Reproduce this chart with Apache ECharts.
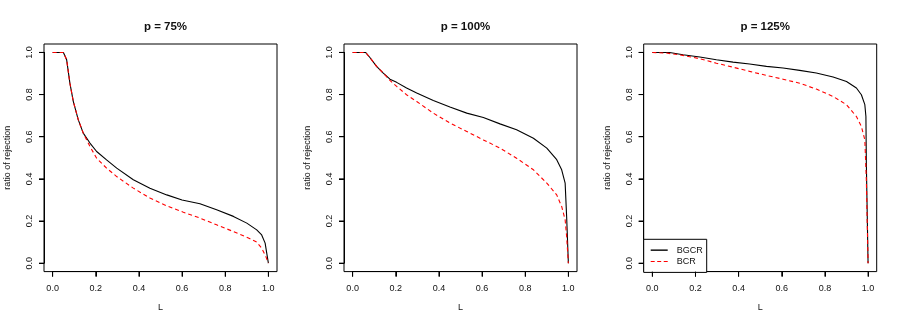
<!DOCTYPE html>
<html>
<head>
<meta charset="utf-8">
<script src="https://cdn.jsdelivr.net/npm/echarts@6/dist/echarts.min.js"></script>
<style>
  html, body { margin: 0; padding: 0; background: #fff; }
  #chart { width: 899px; height: 327px; }
</style>
</head>
<body>
<div id="chart"></div>
<script>
// panel titles
const panelTitles = ['p = 75%', 'p = 100%', 'p = 125%'];
const seriesNames = ['BGCR', 'BCR'];
const tickValues = [0, 0.2, 0.4, 0.6, 0.8, 1.0];

// p = 75%
const bgcr75 = [[0, 1], [0.05, 1], [0.065, 0.965], [0.08, 0.854], [0.096, 0.767], [0.119, 0.68],
  [0.142, 0.617], [0.173, 0.57], [0.204, 0.53], [0.25, 0.49], [0.297, 0.451], [0.374, 0.396],
  [0.451, 0.356], [0.529, 0.324], [0.6, 0.3], [0.683, 0.282], [0.76, 0.253], [0.838, 0.222],
  [0.9, 0.19], [0.946, 0.158], [0.969, 0.134], [0.985, 0.095], [0.99, 0.063], [1.0, 0]];
const bcr75 = [[0, 1], [0.05, 1], [0.065, 0.965], [0.08, 0.854], [0.096, 0.767], [0.119, 0.68],
  [0.142, 0.617], [0.155, 0.59], [0.173, 0.554], [0.204, 0.498], [0.25, 0.451], [0.297, 0.411],
  [0.374, 0.356], [0.451, 0.309], [0.529, 0.272], [0.606, 0.242], [0.683, 0.214], [0.76, 0.182],
  [0.838, 0.15], [0.915, 0.116], [0.946, 0.1], [0.969, 0.071], [0.988, 0.032], [1.0, 0]];

// p = 100%
const bgcr100 = [[0, 1], [0.06, 1], [0.08, 0.976], [0.111, 0.934], [0.142, 0.902], [0.173, 0.873],
  [0.204, 0.858], [0.25, 0.831], [0.297, 0.807], [0.374, 0.772], [0.451, 0.741], [0.529, 0.712],
  [0.606, 0.691], [0.683, 0.661], [0.76, 0.633], [0.838, 0.593], [0.9, 0.546], [0.946, 0.491],
  [0.969, 0.443], [0.985, 0.38], [0.992, 0.22], [1.0, 0]];
const bcr100 = [[0, 1], [0.06, 1], [0.08, 0.976], [0.111, 0.934], [0.142, 0.902], [0.16, 0.882],
  [0.173, 0.867], [0.204, 0.839], [0.25, 0.799], [0.297, 0.767], [0.374, 0.712], [0.451, 0.665],
  [0.529, 0.625], [0.606, 0.585], [0.683, 0.546], [0.76, 0.498], [0.838, 0.443], [0.9, 0.38],
  [0.946, 0.324], [0.969, 0.269], [0.985, 0.206], [0.992, 0.127], [1.0, 0]];

// p = 125%
const bgcr125 = [[0, 1], [0.08, 1], [0.142, 0.989], [0.22, 0.978], [0.297, 0.965], [0.374, 0.954],
  [0.451, 0.945], [0.529, 0.934], [0.606, 0.926], [0.683, 0.915], [0.76, 0.902], [0.838, 0.883],
  [0.9, 0.862], [0.946, 0.831], [0.969, 0.799], [0.985, 0.752], [0.99, 0.696], [0.992, 0.475], [1.0, 0]];
const bcr125 = [[0, 1], [0.065, 0.997], [0.142, 0.986], [0.22, 0.97], [0.297, 0.949], [0.374, 0.93],
  [0.451, 0.91], [0.529, 0.891], [0.606, 0.873], [0.683, 0.854], [0.76, 0.826], [0.838, 0.791],
  [0.9, 0.752], [0.946, 0.696], [0.969, 0.649], [0.985, 0.585], [0.992, 0.396], [1.0, 0]];

const panelData = [[bgcr75, bcr75], [bgcr100, bcr100], [bgcr125, bcr125]];

const font = '"Liberation Sans", Arial, Helvetica, sans-serif';
const textColor = '#111';
// R style box: data range 0..1 plus 4% padding on each side
const boxLefts = [44, 344, 643.7];
const boxTop = 44;
const boxWidth = 233;
const boxHeight = 227.6;
const padX = boxWidth * 0.04 / 1.08;
const padY = boxHeight * 0.04 / 1.08;
const tickLen = 5;

const chart = echarts.init(document.getElementById('chart'));

// tick marks outside the box, placed through the axis scale
function tickRenderer(dir) {
  return function (params, api) {
    const v = api.value(0);
    const p0 = api.coord(dir === 'x' ? [v, 0] : [0, v]);
    let shape;
    if (dir === 'x') {
      const y = p0[1] + padY;
      shape = {x1: p0[0], y1: y, x2: p0[0], y2: y + tickLen};
    } else {
      const x = p0[0] - padX;
      shape = {x1: x, y1: p0[1], x2: x - tickLen, y2: p0[1]};
    }
    return {type: 'line', shape: shape, style: {stroke: '#000', lineWidth: 1}};
  };
}

const grids = [], xAxes = [], yAxes = [], titles = [], series = [];
boxLefts.forEach((left, i) => {
  // data area grid
  grids.push({
    left: left + padX, top: boxTop + padY,
    width: boxWidth - 2 * padX, height: boxHeight - 2 * padY,
    show: false
  });
  titles.push({
    text: panelTitles[i],
    left: left + boxWidth / 2, top: 16, textAlign: 'center',
    textStyle: {fontFamily: font, fontSize: 11.5, fontWeight: 'bold', color: textColor}
  });
  xAxes.push({
    type: 'value', gridIndex: i, min: 0, max: 1, interval: 0.2, position: 'bottom',
    offset: padY,
    name: 'L', nameLocation: 'middle', nameGap: 31,
    nameTextStyle: {fontFamily: font, fontSize: 9, color: textColor},
    axisLine: {show: true, onZero: false, lineStyle: {color: '#000', width: 1}},
    splitLine: {show: false},
    axisTick: {show: true, inside: false, length: tickLen, lineStyle: {color: '#000', width: 1}},
    axisLabel: {
      fontFamily: font, fontSize: 9, color: textColor, margin: 12,
      showMinLabel: true, showMaxLabel: true, formatter: v => v.toFixed(1)
    }
  });
  yAxes.push({
    type: 'value', gridIndex: i, min: 0, max: 1, interval: 0.2, position: 'left',
    offset: padX,
    name: 'ratio of rejection', nameLocation: 'middle', nameGap: 32,
    nameTextStyle: {fontFamily: font, fontSize: 9, color: textColor},
    axisLine: {show: true, onZero: false, lineStyle: {color: '#000', width: 1}},
    splitLine: {show: false},
    axisTick: {show: true, inside: false, length: tickLen, lineStyle: {color: '#000', width: 1}},
    axisLabel: {
      fontFamily: font, fontSize: 9, color: textColor, margin: 10, rotate: 90,
      showMinLabel: true, showMaxLabel: true, formatter: v => v.toFixed(1)
    }
  });
  series.push({
    name: seriesNames[0], type: 'line', xAxisIndex: i, yAxisIndex: i,
    symbol: 'none', silent: true, animation: false, clip: false,
    lineStyle: {color: '#000', width: 1.1},
    itemStyle: {color: '#000'},
    data: panelData[i][0]
  }, {
    name: seriesNames[1], type: 'line', xAxisIndex: i, yAxisIndex: i,
    symbol: 'none', silent: true, animation: false, clip: false,
    lineStyle: {color: '#ff0000', width: 1.1, type: [4, 3]},
    itemStyle: {color: '#ff0000'},
    data: panelData[i][1]
  }, {
    type: 'custom', xAxisIndex: i, yAxisIndex: i, silent: true, clip: false, z: 10,
    renderItem: tickRenderer('x'), data: tickValues.map(v => [v])
  }, {
    type: 'custom', xAxisIndex: i, yAxisIndex: i, silent: true, clip: false, z: 10,
    renderItem: tickRenderer('y'), data: tickValues.map(v => [v])
  });
});

// plot box grids (frame only)
boxLefts.forEach((left, i) => {
  grids.push({
    left: left, top: boxTop, width: boxWidth, height: boxHeight,
    show: true, borderColor: '#000', borderWidth: 1, backgroundColor: 'transparent'
  });
  xAxes.push({type: 'value', gridIndex: 3 + i, show: false, min: 0, max: 1});
  yAxes.push({type: 'value', gridIndex: 3 + i, show: false, min: 0, max: 1});
});

chart.setOption({
  backgroundColor: '#fff',
  animation: false,
  title: titles,
  grid: grids,
  xAxis: xAxes,
  yAxis: yAxes,
  legend: {
    orient: 'vertical',
    left: 643.7, top: 239.3,
    padding: [5.5, 4, 5.5, 7],
    itemWidth: 17, itemHeight: 1.4, itemGap: 0.7,
    borderColor: '#000', borderWidth: 1, borderRadius: 0,
    backgroundColor: '#fff',
    selectedMode: false,
    textStyle: {fontFamily: font, fontSize: 9, color: textColor, lineHeight: 10.7, padding: [0, 0, 0, 4]},
    data: [
      {name: seriesNames[0], icon: 'rect', itemStyle: {color: '#000'}},
      {name: seriesNames[1], icon: 'path://M0,0h4v1h-4zM6.5,0h4v1h-4zM13,0h4v1h-4z', itemStyle: {color: '#ff0000'}}
    ]
  },
  series: series
});
</script>
</body>
</html>
